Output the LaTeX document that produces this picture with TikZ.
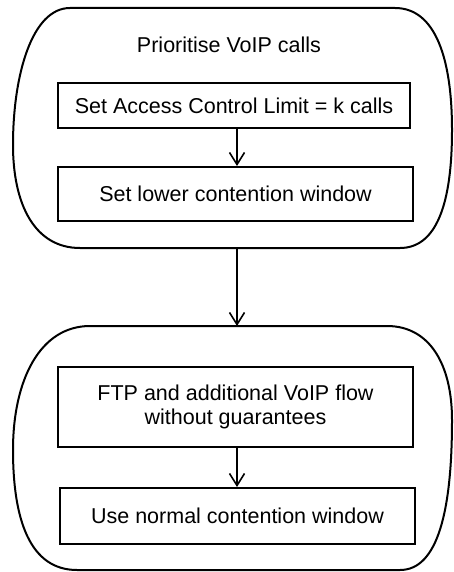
\documentclass[tikz,border=0pt]{standalone}
\usepackage{fontspec}
\setmainfont{Liberation Sans}
\usetikzlibrary{arrows.meta}
\begin{document}
\begin{tikzpicture}[x=1pt,y=-1pt,
  every node/.style={font=\fontsize{21.5}{23.5}\selectfont},
  stepbox/.style={draw, line width=2pt, rectangle, inner sep=0pt, align=center},
  phase/.style={draw, line width=2pt},
  flow/.style={line width=1.6pt, -{Straight Barb[length=12pt,width=15pt,line width=1.6pt]}}]
\useasboundingbox (0,0) rectangle (454,572);
% outer phase outlines
\draw[phase] (70,8) -- (395,8) .. controls (436,8) and (452,60) .. (452,130)
  .. controls (452,205) and (436,248) .. (400,248) -- (80,248)
  .. controls (35,248) and (13,205) .. (13,145)
  .. controls (13,75) and (32,8) .. (70,8) -- cycle;
\draw[phase] (90,326) -- (387,326) .. controls (430,326) and (452,365) .. (452,420)
  .. controls (452,510) and (438,570) .. (400,570) -- (77,570)
  .. controls (30,570) and (13,520) .. (13,450)
  .. controls (13,380) and (40,326) .. (90,326) -- cycle;
\coordinate (p1s) at (237,248);
\coordinate (p2n) at (237,326);
% phase 1
\node (t1) at (229,45) {Prioritise VoIP calls};
\node[stepbox, minimum width=352, minimum height=45] (b1) at (234,105.5) {Set Access Control Limit = k calls};
\node[stepbox, minimum width=355, minimum height=54] (b2) at (235.5,194) {Set lower contention window};
% phase 2
\node[stepbox, minimum width=355, minimum height=80] (b3) at (235.5,407) {FTP and additional VoIP flow\\without guarantees};
\node[stepbox, minimum width=355, minimum height=56] (b4) at (237.5,516) {Use normal contention window};
% connectors
\draw[flow] (b1.south -| p1s) -- (b2.north -| p1s);
\draw[flow] (p1s) -- (p2n);
\draw[flow] (b3.south -| p1s) -- (b4.north -| p1s);
\end{tikzpicture}
\end{document}
